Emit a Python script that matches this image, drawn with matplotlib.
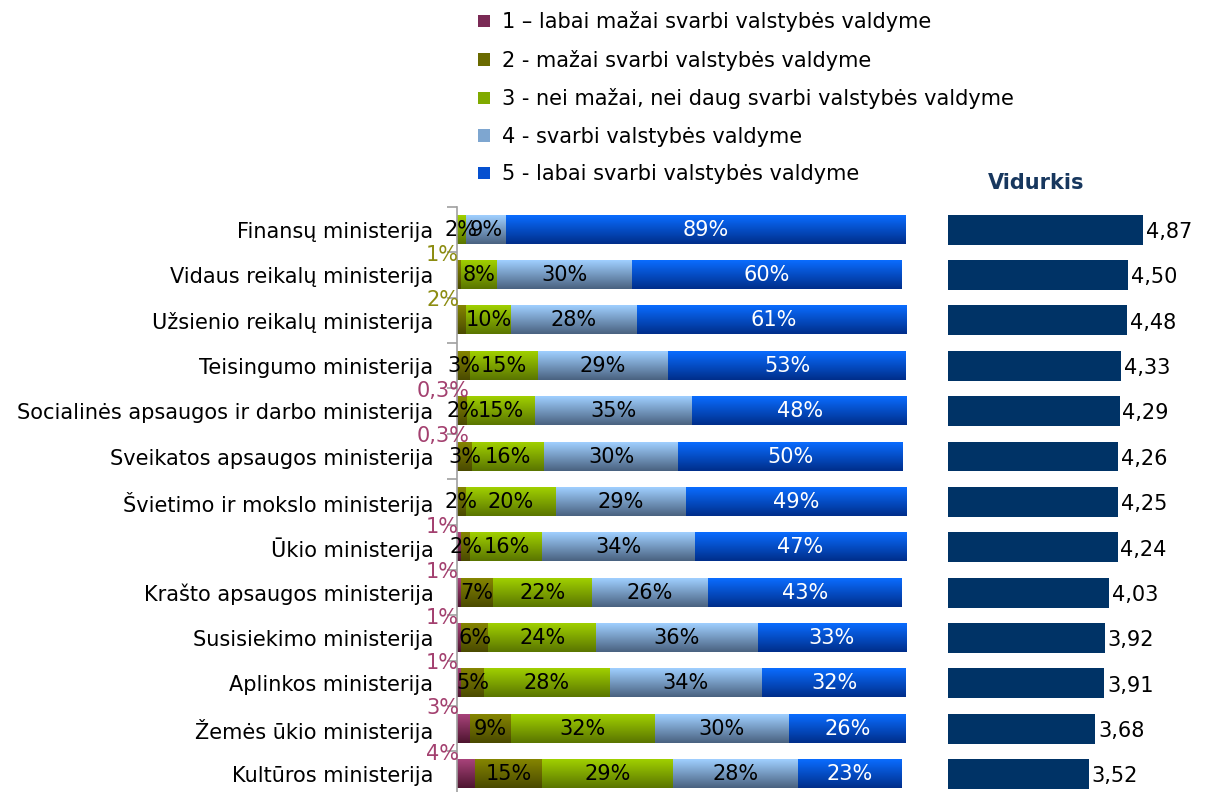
import numpy as np
import matplotlib
matplotlib.use("Agg")
import matplotlib.pyplot as plt
from matplotlib.colors import LinearSegmentedColormap
from matplotlib.patches import Patch

plt.rcParams["font.family"] = ["DejaVu Sans"]

ministries = [
    "Finansų ministerija",
    "Vidaus reikalų ministerija",
    "Užsienio reikalų ministerija",
    "Teisingumo ministerija",
    "Socialinės apsaugos ir darbo ministerija",
    "Sveikatos apsaugos ministerija",
    "Švietimo ir mokslo ministerija",
    "Ūkio ministerija",
    "Krašto apsaugos ministerija",
    "Susisiekimo ministerija",
    "Aplinkos ministerija",
    "Žemės ūkio ministerija",
    "Kultūros ministerija",
]
s1 = [0, 0, 0, 0, 0.3, 0.3, 0, 1, 1, 1, 1, 3, 4]
s2 = [0, 1, 2, 3, 2, 3, 2, 2, 7, 6, 5, 9, 15]
s3 = [2, 8, 10, 15, 15, 16, 20, 16, 22, 24, 28, 32, 29]
s4 = [9, 30, 28, 29, 35, 30, 29, 34, 26, 36, 34, 30, 28]
s5 = [89, 60, 61, 53, 48, 50, 49, 47, 43, 33, 32, 26, 23]
means = [4.87, 4.50, 4.48, 4.33, 4.29, 4.26, 4.25, 4.24, 4.03, 3.92, 3.91, 3.68, 3.52]

series_names = [
    "1 – labai mažai svarbi valstybės valdyme",
    "2 - mažai svarbi valstybės valdyme",
    "3 - nei mažai, nei daug svarbi valstybės valdyme",
    "4 - svarbi valstybės valdyme",
    "5 - labai svarbi valstybės valdyme",
]
# (row, series) whose labels sit outside the bar
outside = [(1, 1), (2, 1)] + [(i, 0) for i in range(13) if s1[i] > 0]

# gradient colours (top, bottom)
grads = [
    ("#A8437A", "#4E1530"),
    ("#858500", "#4A4A00"),
    ("#A0D000", "#5A7500"),
    ("#9FCFFF", "#4A6280"),
    ("#0A6CFF", "#002E8A"),
]
label_cols = ["#A3406F", "#8C8C10", "black", "black", "white"]
FS = 15

fig = plt.figure(figsize=(12.1, 7.92), dpi=100)
ax = fig.add_axes([457 / 1210, -0.006, 449 / 1210, 1 - 207 / 792 + 0.006])
axm = fig.add_axes([948 / 1210, -0.006, 260 / 1210, 1 - 207 / 792 + 0.006])

y = np.arange(len(ministries))
h = 0.62
data = [s1, s2, s3, s4, s5]
left = np.zeros(len(ministries))
for k, vals in enumerate(data):
    vals = np.array(vals, dtype=float)
    top, bot = grads[k]
    cmap = LinearSegmentedColormap.from_list("g%d" % k, [top, bot])
    grad = np.linspace(0, 1, 64).reshape(-1, 1)
    bars = ax.barh(y, vals, left=left, height=h, color=bot, zorder=1)
    for i, b in enumerate(bars):
        if vals[i] <= 0:
            continue
        x0, w = b.get_x(), b.get_width()
        # vertical gradient fill, light on top
        ax.imshow(grad, cmap=cmap, extent=(x0, x0 + w, y[i] + h / 2, y[i] - h / 2),
                  aspect="auto", origin="upper", zorder=2, interpolation="bilinear")
        txt = ("%g" % vals[i]).replace(".", ",") + "%"
        if (i, k) in outside:
            ax.text(-3.2, y[i] - 0.45, txt, ha="center", va="center", fontsize=FS,
                    color=label_cols[k], clip_on=False, zorder=5)
        else:
            ax.text(x0 + w / 2, y[i], txt, ha="center", va="center", fontsize=FS,
                    color="white" if k == 4 else "black", zorder=5)
    left += vals

ax.set_xlim(0, 100)
ax.set_ylim(len(ministries) - 0.5, -0.5)
ax.set_yticks(y)
ax.set_yticklabels(ministries, fontsize=FS)
ax.set_yticks(np.arange(len(ministries) + 1) - 0.5, minor=True)
ax.tick_params(axis="y", which="major", length=0, pad=17)
ax.tick_params(axis="y", which="minor", length=7, color="#A0A0A0", width=1.2, direction="out")
ax.set_xticks([])
for s in ["top", "right", "bottom"]:
    ax.spines[s].set_visible(False)
ax.spines["left"].set_color("#A0A0A0")
ax.spines["left"].set_linewidth(1.2)

axm.barh(y, means, height=0.66, color="#003366")
for i, m in enumerate(means):
    axm.text(m + 0.07, y[i] + 0.05, ("%.2f" % m).replace(".", ","), ha="left", va="center",
             fontsize=FS, color="black")
axm.set_xlim(0, 6.5)
axm.set_ylim(len(ministries) - 0.5, -0.5)
axm.axis("off")

fig.text(1036 / 1210, 1 - 183 / 792, "Vidurkis", ha="center", va="center", fontsize=FS,
         fontweight="bold", color="#17375E")

handles = [Patch(facecolor=c, edgecolor="none") for c in ["#7A2A55", "#6A6A00", "#80AA00", "#7EA6D0", "#0550D0"]]
fig.legend(handles, series_names, loc="upper left", bbox_to_anchor=(470 / 1210, 1 - 3 / 792),
           frameon=False, fontsize=FS, handlelength=0.55, handleheight=0.55,
           handletextpad=0.6, labelspacing=0.84, borderaxespad=0)

fig.savefig("out.png", dpi=100)
